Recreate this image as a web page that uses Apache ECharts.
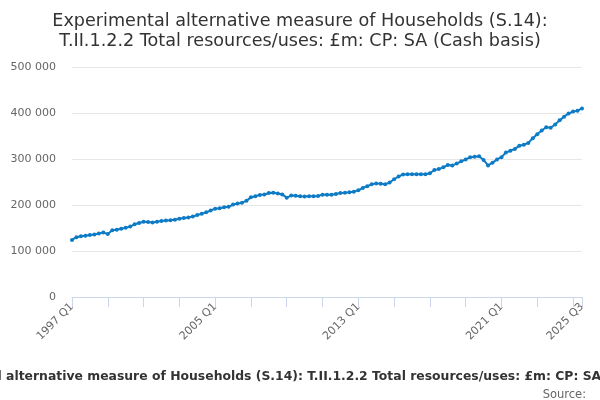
<!DOCTYPE html>
<html><head><meta charset="utf-8">
<script src="https://cdn.jsdelivr.net/npm/echarts@6/dist/echarts.min.js"></script>
<style>html,body{margin:0;padding:0;background:#fff}#c{width:600px;height:400px}</style>
</head><body><div id="c"></div>
<script>
const categories = [];
for (let y = 1997; y <= 2025; y++) {
  for (let q = 1; q <= 4; q++) {
    if (y === 2025 && q > 3) break;
    categories.push(y + ' Q' + q);
  }
}
const values = [
124000,130000,132000,133000,135000,136000,138000,140000,137000,145000,
146000,148500,150500,153000,158000,161000,163500,163000,162000,163500,
165000,166500,167000,168000,170000,171500,173000,175000,178000,181000,
184000,188000,192000,193000,195000,196000,201000,203000,205000,209000,
217000,219000,222000,223000,226000,226500,225000,223000,216000,220500,
220000,219000,218500,219000,219000,219500,222500,222500,222500,224000,
226000,226500,227500,229000,232000,237000,241000,245000,247000,246000,
245000,249000,256000,262000,266500,267000,267000,267000,267000,267000,
269000,276000,278000,282000,287000,286000,290000,295000,299000,304000,
305000,306000,298000,286000,292000,299000,304000,314000,318000,322000,
329000,331000,335000,345000,354000,362000,369000,368000,375000,384000,
392000,399000,403000,405000,410000
];
const titleText = 'Experimental alternative measure of Households (S.14):\nT.II.1.2.2 Total resources/uses: £m: CP: SA (Cash basis)';
const footText = 'Experimental alternative measure of Households (S.14): T.II.1.2.2 Total resources/uses: £m: CP: SA (Cash basis)';
const last = categories.length - 1;
const chart = echarts.init(document.getElementById('c'));
chart.setOption({
  animation: false,
  textStyle: { fontFamily: 'DejaVu Sans' },
  title: [
    { text: titleText, left: 'center', top: 6,
      textStyle: { fontSize: 17.6, fontWeight: 'normal', color: '#333', lineHeight: 20, fontFamily: 'DejaVu Sans' } },
    { text: footText, left: 'center', top: 366,
      textStyle: { fontSize: 12.4, fontWeight: 'bold', color: '#333', fontFamily: 'DejaVu Sans' } },
    { text: 'Source:', right: 9, top: 384,
      textStyle: { fontSize: 11.5, fontWeight: 'normal', color: '#666', fontFamily: 'DejaVu Sans' } }
  ],
  grid: { left: 72, right: 18, top: 67, bottom: 103, containLabel: false },
  xAxis: {
    type: 'category', data: categories, boundaryGap: false,
    axisLine: { lineStyle: { color: '#ccd6eb' } },
    axisTick: { alignWithLabel: true, length: 10, lineStyle: { color: '#ccd6eb' },
      interval: (i) => i % 8 === 0 || i === last },
    axisLabel: { rotate: 45, color: '#666', fontSize: 11, margin: 8,
      interval: (i) => i % 32 === 0 || i === last, hideOverlap: false },
    splitLine: { show: false }
  },
  yAxis: {
    type: 'value', min: 0, max: 500000, interval: 100000,
    axisLine: { show: false }, axisTick: { show: false },
    axisLabel: { color: '#666', fontSize: 11, margin: 16,
      formatter: (v) => String(v).replace(/\B(?=(\d{3})+(?!\d))/g, ' ') },
    splitLine: { lineStyle: { color: '#e6e6e6' } }
  },
  series: [{
    type: 'line', data: values, color: '#0d7bc5',
    lineStyle: { width: 2 }, symbol: 'circle', symbolSize: 4, showSymbol: true, showAllSymbol: true,
    itemStyle: { color: '#0d7bc5' }
  }]
});
</script></body></html>
